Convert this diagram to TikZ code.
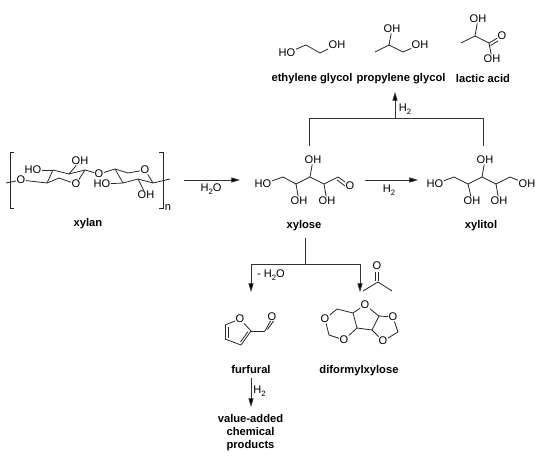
\documentclass[tikz,border=0pt]{standalone}
\usepackage{fontspec}
\setmainfont{Liberation Sans}
\usetikzlibrary{arrows.meta}
\newcommand{\subtwo}[1]{\raisebox{-0.22em}{\fontsize{5.8pt}{6pt}\selectfont #1}}
\tikzset{
  x=0.75pt,y=-0.75pt,
  atom/.style={inner sep=0.2pt,font=\fontsize{8.3pt}{9pt}\selectfont,text=black},
  lab/.style={inner sep=0pt,font=\fontsize{8.3pt}{9pt}\selectfont,text=black},
  name label/.style={inner sep=0pt,align=center,font=\fontsize{8.4pt}{9.75pt}\selectfont\bfseries,text=black},
  bond/.style={draw=black!85,line width=0.6pt},
  flow/.style={draw=black!80,line width=0.6pt},
  flowarrow/.style={flow,-{Triangle[length=6.5pt,width=3.8pt,fill=black]}},
}
\newcommand{\bonds}[1]{\foreach \a/\b in {#1}{\draw[bond] (\a) -- (\b);}}
\begin{document}
\begin{tikzpicture}
\useasboundingbox (0,0) rectangle (540,460);
% --- xylan
\coordinate (xt1) at (6,183);
\node[atom] (xo1) at (21,180) {O};
\coordinate (c1) at (47,183);
\coordinate (c2) at (53,170);
\coordinate (c3) at (69,174);
\coordinate (c4) at (85,170);
\node[atom] (xo2) at (76,184) {O};
\coordinate (c5) at (59,178);
\node[atom] (xho1) at (33,170) {HO};
\node[atom] (xoh1) at (80,161) {OH};
\node[atom] (xo3) at (99,174) {O};
\coordinate (c6) at (115,169);
\coordinate (c7) at (128,173);
\node[atom] (xo4) at (145,170) {O};
\coordinate (c8) at (153,183);
\coordinate (c9) at (138,179);
\coordinate (c10) at (123,183);
\node[atom] (xho2) at (102,184) {HO};
\node[atom] (xoh2) at (146,195) {OH};
\coordinate (xt2) at (170,179);
\bonds{xt1/xo1,xo1/c1,c1/c2,c2/c3,c3/c4,c4/xo2,xo2/c5,c5/c1,c2/xho1,c3/xoh1,c4/xo3,xo3/c6,c6/c7,c7/xo4,xo4/c8,c8/c9,c9/c10,c10/c6,c10/xho2,c9/xoh2,c8/xt2}
\coordinate (bl1) at (14,152); \coordinate (bl2) at (10,152); \coordinate (bl3) at (10,208); \coordinate (bl4) at (14,208);
\coordinate (br1) at (159,152); \coordinate (br2) at (163,152); \coordinate (br3) at (163,208); \coordinate (br4) at (159,208);
\draw[bond] (bl1) -- (bl2) -- (bl3) -- (bl4);
\draw[bond] (br1) -- (br2) -- (br3) -- (br4);
\node[atom] (xn) at (168,208) {n};
\node[name label] (xylan) at (88,223.5) {xylan};
% --- xylose
\node[atom] (sho) at (263,184) {HO};
\coordinate (sa) at (283,177);
\coordinate (sb) at (296,184);
\coordinate (sc) at (310,177);
\coordinate (sd) at (324,184);
\coordinate (se) at (338,177);
\node[atom] (so) at (350,185.5) {O};
\node[atom] (soh1) at (313,160) {OH};
\node[atom] (soh2) at (299,201) {OH};
\node[atom] (soh3) at (327,201) {OH};
\bonds{sho/sa,sa/sb,sb/sc,sc/sd,sd/se,sc/soh1,sb/soh2,sd/soh3}
\draw[bond] (se) -- (so);
\coordinate (se2) at (337,180);
\coordinate (so2) at (345,186);
\draw[bond] (se2) -- (so2);
\node[name label] (xylose) at (304,225.5) {xylose};
% --- xylitol
\node[atom] (tho) at (435,184) {HO};
\coordinate (ta) at (454,177);
\coordinate (tb) at (468,184);
\coordinate (tc) at (482,177);
\coordinate (td) at (496,184);
\coordinate (te) at (510,177);
\node[atom] (toh4) at (527,184) {OH};
\node[atom] (toh1) at (485,160) {OH};
\node[atom] (toh2) at (472,201) {OH};
\node[atom] (toh3) at (499,201) {OH};
\bonds{tho/ta,ta/tb,tb/tc,tc/td,td/te,te/toh4,tc/toh1,tb/toh2,td/toh3}
\node[name label] (xylitol) at (481,225.5) {xylitol};
% --- ethylene glycol
\node[atom] (eho) at (287,53) {HO};
\coordinate (ea) at (306,45);
\coordinate (eb) at (320,53);
\node[atom] (eoh) at (337,44.5) {OH};
\bonds{eho/ea,ea/eb,eb/eoh}
\node[name label] (eg) at (312,79) {ethylene glycol};
% --- propylene glycol
\coordinate (pm) at (375,52);
\coordinate (pa) at (389,45);
\coordinate (pb) at (403,52);
\node[atom] (poh1) at (420,44.5) {OH};
\node[atom] (poh2) at (392,29) {OH};
\bonds{pm/pa,pa/pb,pb/poh1,pa/poh2}
\node[name label] (pg) at (401,79) {propylene glycol};
% --- lactic acid
\coordinate (lm) at (461,43);
\coordinate (la) at (475,36);
\coordinate (lb) at (489,43);
\node[atom] (lo) at (502,35.5) {O};
\coordinate (lb2) at (490.5,45.5);
\coordinate (lo2) at (498,41);
\node[atom] (loh1) at (478,19) {OH};
\node[atom] (loh2) at (492,59) {OH};
\bonds{lm/la,la/lb,lb/lo,la/loh1,lb/loh2,lb2/lo2}
\node[name label] (la1) at (483,78) {lactic acid};
% --- top fork
\coordinate (f1) at (309,146);
\coordinate (f2) at (309,118);
\coordinate (f3) at (483,146);
\coordinate (f4) at (483,118);
\coordinate (f5) at (395,118);
\coordinate (f6) at (395,92);
\draw[flow] (f1) -- (f2) -- (f4) -- (f3);
\draw[flowarrow] (f5) -- (f6);
\node[lab] (h2a) at (405,109) {H\subtwo{2}};
% --- horizontal arrows
\coordinate (a1) at (184,180);
\coordinate (a2) at (240,180);
\draw[flowarrow] (a1) -- (a2);
\node[lab] (h2o1) at (211,189) {H\subtwo{2}O};
\coordinate (a3) at (365,180);
\coordinate (a4) at (418,180);
\draw[flowarrow] (a3) -- (a4);
\node[lab] (h2b) at (389,190) {H\subtwo{2}};
% --- lower fork
\coordinate (g1) at (305,238);
\coordinate (g2) at (305,264);
\coordinate (g3) at (251,264);
\coordinate (g4) at (251,292);
\coordinate (g5) at (360,264);
\coordinate (g6) at (360,292);
\draw[flow] (g1) -- (g2);
\draw[flowarrow] (g2) -- (g3) -- (g4);
\draw[flowarrow] (g2) -- (g5) -- (g6);
\node[lab] (mh2o) at (271,275) {- H\subtwo{2}O};
% --- acetone
\node[atom] (ao) at (377,266) {O};
\coordinate (ac) at (378,282);
\coordinate (am1) at (363,291);
\coordinate (am2) at (392,291);
\coordinate (ac2) at (375.5,281);
\coordinate (ao2) at (375.5,272);
\coordinate (ac3) at (378,281);
\coordinate (ao3) at (378,272);
\bonds{ac3/ao3,ac2/ao2,am1/ac,ac/am2}
% --- furfural
\node[atom] (fo) at (240,319) {O};
\coordinate (f2c) at (251,331);
\coordinate (f3c) at (241,345);
\coordinate (f4c) at (225,339);
\coordinate (f5c) at (225,325);
\coordinate (fc) at (265,331);
\node[atom] (fo2) at (272,317) {O};
\coordinate (i2) at (248,331.5);
\coordinate (i3) at (240.5,342);
\coordinate (i4) at (228,337.5);
\coordinate (i5) at (228,326.5);
\coordinate (fc2) at (267.5,329.5);
\coordinate (fo3) at (273.5,321);
\coordinate (fc3) at (265,331);
\coordinate (fo4) at (270.5,321);
\bonds{fo/f2c,f2c/f3c,f3c/f4c,f4c/f5c,f5c/fo,i2/i3,i4/i5,f2c/fc,fc3/fo4,fc2/fo3}
\node[name label] (fur) at (251,369) {furfural};
% --- diformylxylose
\node[atom] (do1) at (365,305) {O};
\coordinate (da) at (353,313);
\coordinate (db) at (379,316);
\coordinate (dc) at (357,328);
\coordinate (dd) at (372,330);
\coordinate (dl1) at (337,309);
\node[atom] (do2) at (325,319) {O};
\coordinate (dl2) at (329,335);
\node[atom] (do3) at (344,340) {O};
\node[atom] (do4) at (393,317) {O};
\coordinate (dr) at (398,332);
\node[atom] (do5) at (383,341) {O};
\bonds{do1/da,do1/db,da/dc,db/dd,dc/dd,da/dl1,dl1/do2,do2/dl2,dl2/do3,do3/dc,db/do4,do4/dr,dr/do5,do5/dd}
\node[name label] (dfx) at (359,370.5) {diformylxylose};
% --- furfural to products
\coordinate (v1) at (251,378);
\coordinate (v2) at (251,407);
\draw[flowarrow] (v1) -- (v2);
\node[lab] (h2c) at (259.5,391) {H\subtwo{2}};
\node[name label] (prod) at (250.5,432.5) {value-added\\chemical\\products};
\end{tikzpicture}
\end{document}
